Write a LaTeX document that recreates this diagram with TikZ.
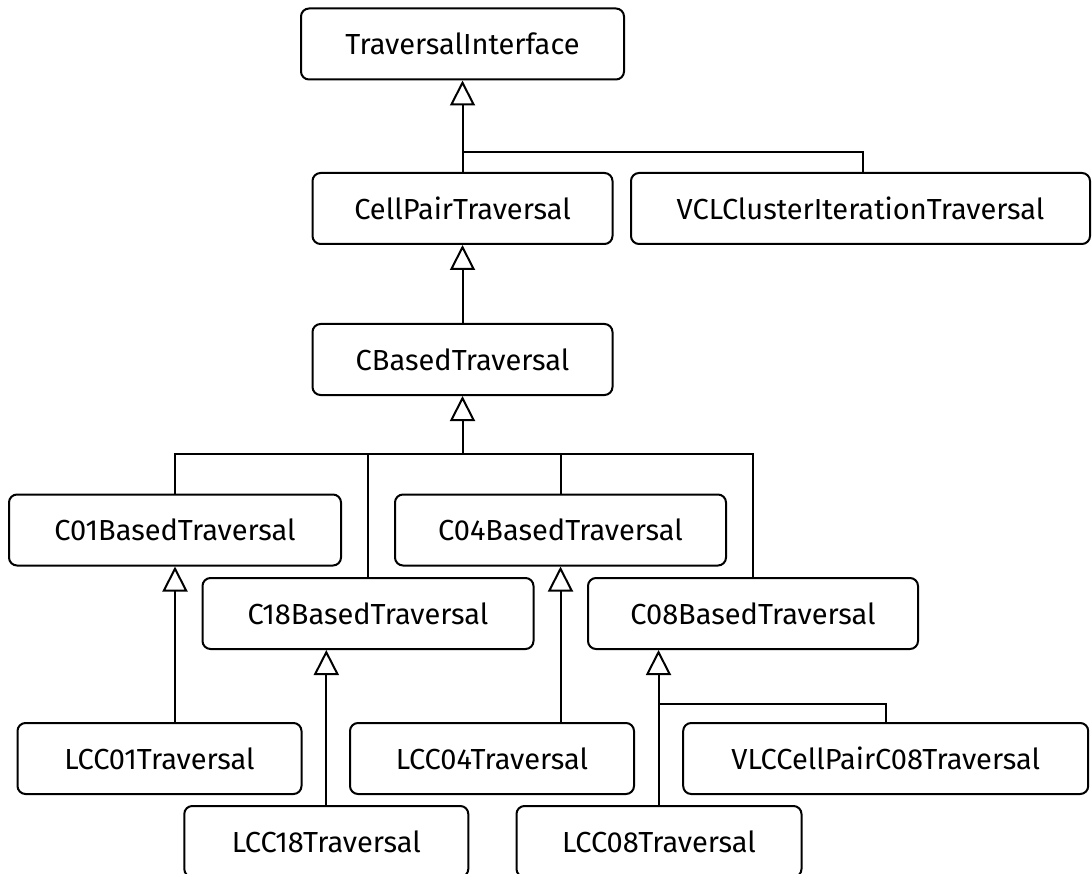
\documentclass[tikz,border=0pt]{standalone}
\usepackage{fontspec}
\setmainfont{Fira Sans}
\usetikzlibrary{arrows.meta}
\begin{document}
\begin{tikzpicture}[x=1pt,y=-1pt,
  cls/.style={draw=black, line width=2pt, rounded corners=8pt, fill=white,
    inner sep=0pt, minimum height=71pt, font=\fontsize{29}{33}\selectfont},
  link/.style={draw=black, line width=2pt},
  inh/.style={link, -{Triangle[open, length=25pt, width=25pt, line width=2pt]}}]
\useasboundingbox (0,0) rectangle (1092,874);
% nodes
\node[cls, minimum width=323pt] (iface) at (462.5,44) {TraversalInterface};
\node[cls, minimum width=300pt] (cellpair) at (462.5,208.5) {CellPairTraversal};
\node[cls, minimum width=459pt] (vcl) at (860.5,208.5) {VCLClusterIterationTraversal};
\node[cls, minimum width=300pt] (cbased) at (462.5,359.5) {CBasedTraversal};
\node[cls, minimum width=332pt] (c01) at (175,530) {C01BasedTraversal};
\node[cls, minimum width=331pt] (c04) at (560.5,530) {C04BasedTraversal};
\node[cls, minimum width=331pt] (c18) at (368,613.5) {C18BasedTraversal};
\node[cls, minimum width=330pt] (c08) at (753,613.5) {C08BasedTraversal};
\node[cls, minimum width=284pt] (lcc01) at (159.5,758.5) {LCC01Traversal};
\node[cls, minimum width=284pt] (lcc04) at (492,758.5) {LCC04Traversal};
\node[cls, minimum width=405pt] (vlc) at (885.7,758.5) {VLCCellPairC08Traversal};
\node[cls, minimum width=284pt] (lcc18) at (326.3,841.5) {LCC18Traversal};
\node[cls, minimum width=285pt] (lcc08) at (659,841.5) {LCC08Traversal};
% junction coordinates
\coordinate (j1) at (462.5,152.5);
\coordinate (j2) at (462.5,454);
\coordinate (j3) at (658.5,703.5);
% connectors
\draw[inh] (cellpair.north) -- (iface.south);
\draw[link] (vcl.north -| 863,0) |- (j1);
\draw[inh] (cbased.north) -- (cellpair.south);
\draw[inh] (j2) -- (cbased.south);
\draw[link] (c01.north) |- (j2);
\draw[link] (c18.north) |- (j2);
\draw[link] (c04.north) |- (j2);
\draw[link] (c08.north) |- (j2);
\draw[inh] (lcc01.north -| c01.south) -- (c01.south);
\draw[inh] (lcc04.north -| c04.south) -- (c04.south);
\draw[inh] (lcc18.north) -- (lcc18.north |- c18.south);
\draw[inh] (lcc08.north -| j3) -- (j3 |- c08.south);
\draw[link] (vlc.north) |- (j3);
\end{tikzpicture}
\end{document}
